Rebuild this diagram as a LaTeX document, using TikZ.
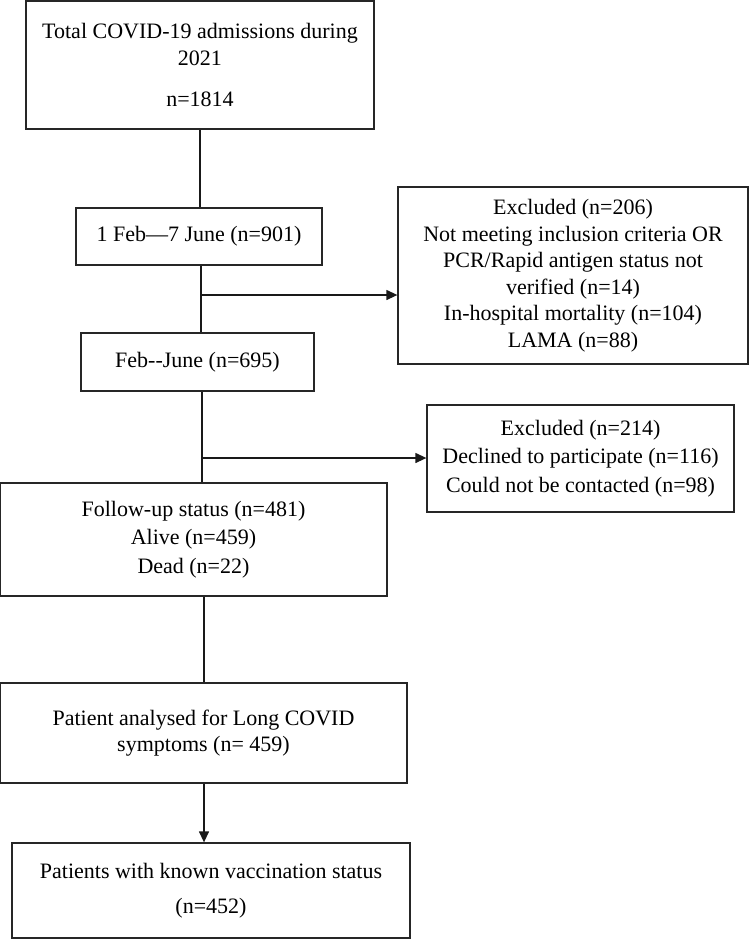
\documentclass[tikz,border=0pt]{standalone}
\usepackage{fontspec}
\setmainfont{Liberation Serif}
\usetikzlibrary{arrows.meta}
\begin{document}
\begin{tikzpicture}[x=1pt,y=-1pt,
  box/.style={draw=black!85, line width=1.3pt, align=center, inner sep=0pt,
    font=\fontsize{22}{26.5}\selectfont},
  conn/.style={line width=1.3pt, draw=black!90},
  arr/.style={conn, -{Triangle[length=11pt,width=10pt]}}]
\useasboundingbox (0,0) rectangle (750,943);
\fill[white] (0,0) rectangle (750,943);

\node[box, minimum width=348pt, minimum height=128pt] (b1) at (200,65)
  {Total COVID-19 admissions during\\2021\\[15pt]n=1814};
\node[box, minimum width=246pt, minimum height=57pt] (b2) at (199,236.5)
  {1 Feb—7 June (n=901)};
\node[box, minimum width=233pt, minimum height=58pt] (b3) at (197.5,362)
  {Feb-{}-June (n=695)};
\node[box, minimum width=350pt, minimum height=177pt] (e1) at (573,275.5)
  {Excluded (n=206)\\Not meeting inclusion criteria OR\\PCR/Rapid antigen status not\\verified (n=14)\\In-hospital mortality (n=104)\\LAMA (n=88)};
\node[box, minimum width=307pt, minimum height=107pt] (e2) at (580.5,458.5)
  {Excluded (n=214)\\[2pt]Declined to participate (n=116)\\[2pt]Could not be contacted (n=98)};
\node[box, minimum width=387pt, minimum height=113pt] (b4) at (193.5,539.5)
  {Follow-up status (n=481)\\[2pt]Alive (n=459)\\[2pt]Dead (n=22)};
\node[box, minimum width=407pt, minimum height=100pt] (b5) at (203.5,733)
  {Patient analysed for Long COVID\\symptoms (n= 459)};
\node[box, minimum width=398pt, minimum height=95pt] (b6) at (211,890.5)
  {Patients with known vaccination status\\[9pt](n=452)};

\coordinate (c1) at (200,0);
\coordinate (j1) at (201,295);
\coordinate (j2) at (202,458);
\coordinate (c4) at (204,0);

\draw[conn] (b1.south -| c1) -- (b2.north -| c1);
\draw[conn] (b2.south -| j1) -- (b3.north -| j1);
\draw[arr] (j1) -- (j1 -| e1.west);
\draw[conn] (b3.south -| j2) -- (b4.north -| j2);
\draw[arr] (j2) -- (j2 -| e2.west);
\draw[conn] (b4.south -| c4) -- (b5.north -| c4);
\draw[arr] (b5.south -| c4) -- (b6.north -| c4);
\end{tikzpicture}
\end{document}
